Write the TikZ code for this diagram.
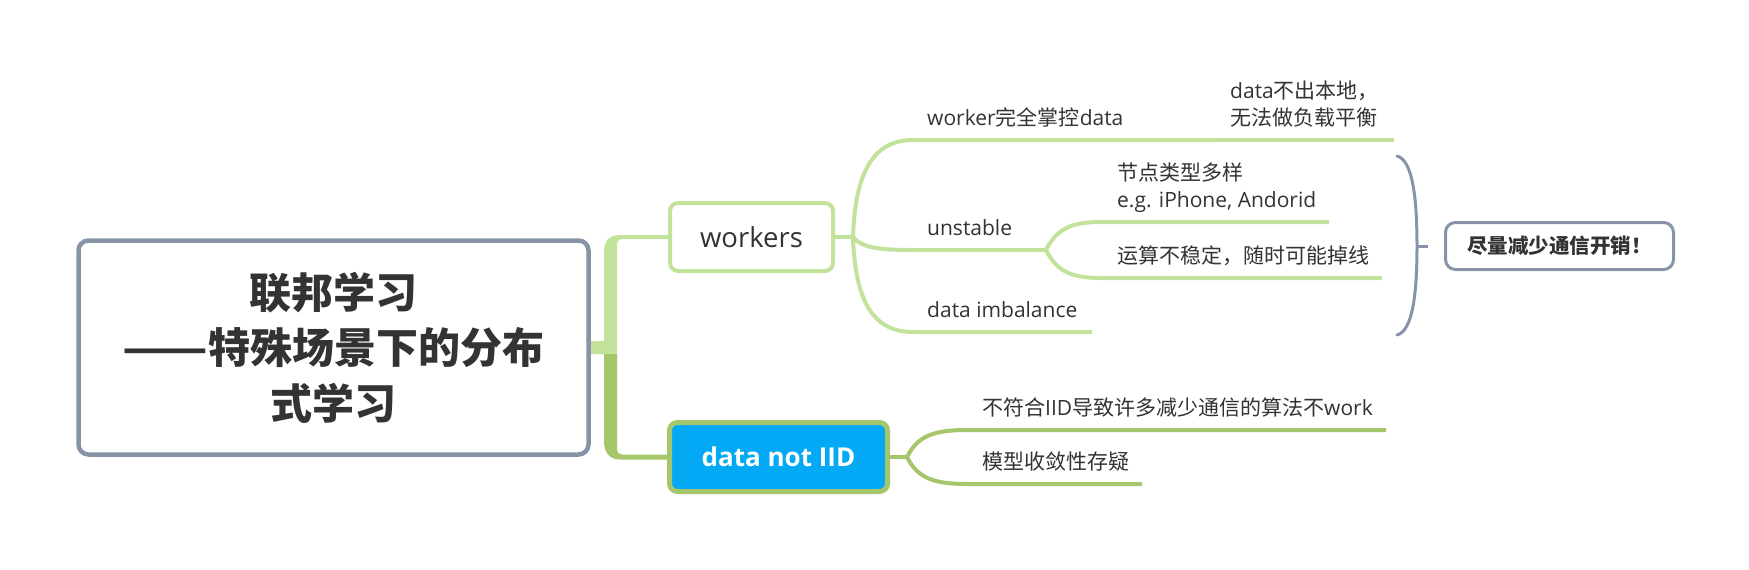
\documentclass[tikz,border=0pt]{standalone}
\usepackage{fontspec}
\usepackage{graphicx}
\setmainfont{Open Sans}
\newfontfamily\cjk{Noto Sans CJK SC}
\usetikzlibrary{calc, backgrounds}
\definecolor{cGreenL}{RGB}{195,226,155}
\definecolor{cGreenD}{RGB}{166,198,108}
\definecolor{cGrey}{RGB}{135,148,168}
\definecolor{cBlue}{RGB}{3,169,244}
\definecolor{cText}{RGB}{51,51,51}
\newcommand{\twoln}[2]{\begin{tabular}[b]{@{}l@{}}#1\\#2\end{tabular}}

\begin{document}
\begin{tikzpicture}[x=1pt, y=-1pt,
    rootbox/.style={draw=cGrey, line width=4.5pt, rounded corners=10pt, fill=white, text=cText, align=center, inner sep=0pt, minimum width=510pt, minimum height=214pt, font=\cjk\bfseries\fontsize{42}{55.5}\selectfont},
    mainbox/.style={rounded corners=8pt, inner sep=0pt, font=\fontsize{27.5}{32}\selectfont},
    leaf/.style={anchor=south west, inner sep=0pt, text depth=0pt, text=cText, font=\fontsize{21}{27}\selectfont},
    sumbox/.style={draw=cGrey, line width=3pt, rounded corners=10pt, fill=white, text=cText, minimum width=228pt, minimum height=47pt, inner sep=0pt, font=\cjk\bfseries\fontsize{20.5}{24}\selectfont},
    lgl/.style={draw=cGreenL, line width=4pt},
    dgl/.style={draw=cGreenD, line width=4pt}]
  \useasboundingbox (0,0) rectangle (1749,570);
  % main topics
  \node[rootbox] (root) at (333.5,347.5) {联邦学习\\\scalebox{1.19}[1]{——}特殊场景下的分布\\式学习};
  \node[mainbox, draw=cGreenL, line width=4pt, fill=white, text=cText, minimum width=163pt, minimum height=68pt] (wk) at (751.5,237) {workers};
  \node[mainbox, draw=cGreenD, line width=5pt, fill=cBlue, text=white, minimum width=218pt, minimum height=69pt, font=\bfseries\fontsize{26}{30}\selectfont] (iid) at (778.5,457) {data not IID};
  % line ends of the subtopics
  \coordinate (wo) at (853,237);
  \coordinate (t1s) at (913,140);   \coordinate (t1e) at (1216,140);  \coordinate (t1ce) at (1394,140);
  \coordinate (t2s) at (913,250);   \coordinate (t2e) at (1046,250);
  \coordinate (t2as) at (1103,222); \coordinate (t2ae) at (1329,222);
  \coordinate (t2bs) at (1103,278); \coordinate (t2be) at (1382,278);
  \coordinate (t3s) at (913,332);   \coordinate (t3e) at (1092,332);
  \coordinate (io) at (907,457);
  \coordinate (i1s) at (968,430);   \coordinate (i1e) at (1386,430);
  \coordinate (i2s) at (968,484);   \coordinate (i2e) at (1142,484);
  % subtopics
  \node[leaf] (t1) at ($(t1s)+(14,-14.5)$) {worker{\cjk 完全掌控}data};
  \node[leaf] (t1c) at ($(t1e)+(14,-14.5)$) {\twoln{data{\cjk 不出本地，}}{\cjk 无法做负载平衡}};
  \node[leaf] (t2) at ($(t2s)+(14,-14.5)$) {unstable};
  \node[leaf] (t2a) at ($(t2as)+(14,-14.5)$) {\twoln{\cjk 节点类型多样}{e.g. iPhone, Andorid}};
  \node[leaf] (t2b) at ($(t2bs)+(14,-14.5)$) {\cjk 运算不稳定，随时可能掉线};
  \node[leaf] (t3) at ($(t3s)+(14,-14.5)$) {data imbalance};
  \node[leaf] (i1) at ($(i1s)+(14,-14.5)$) {{\cjk 不符合}IID{\cjk 导致许多减少通信的算法不}work};
  \node[leaf] (i2) at ($(i2s)+(14,-14.5)$) {\cjk 模型收敛性存疑};
  % summary
  \node[sumbox] (sum) at (1559.5,246) {尽量减少通信开销！};
  \coordinate (bt) at (1397,156); \coordinate (bm) at (1417,246); \coordinate (bb) at (1397,335);
  \draw[cGrey, line width=3pt, line cap=round] (bt) .. controls (1413,160) and (1417,200) .. (bm) .. controls (1417,292) and (1413,331) .. (bb);
  \draw[cGrey, line width=3pt] (bm) -- ([xshift=-16pt]sum.west);
  \begin{scope}[on background layer]
    \fill[white] (0,0) rectangle (1749,570);
    % trunk
    \fill[cGreenL] ([yshift=6.5pt]root.east) -- (604,341) -- (604,252) .. controls (604,241) and (609,235) .. (620,235) -- ([yshift=2pt]wk.west) -- ([yshift=-2pt]wk.west) -- (622,239) .. controls (619,239) and (617,241) .. (617,244) -- (617,354) -- ([yshift=-6.5pt]root.east) -- cycle;
    \fill[cGreenD] (604,354) -- (604,441) .. controls (604,452) and (609,459.5) .. (620,459.5) -- ([yshift=-2.5pt]iid.west) -- ([yshift=2.5pt]iid.west) -- (622,454.5) .. controls (619,454.5) and (617,452.5) .. (617,450) -- (617,354) -- cycle;
    % workers branch
    \draw[lgl] (wk.east) -- (wo);
    \draw[lgl] (wo) .. controls (855,178) and (870,140) .. (t1s) -- (t1e);
    \draw[lgl] (t1e) -- (t1ce);
    \draw[lgl] (wo) .. controls (862,248) and (880,250) .. (t2s) -- (t2e);
    \draw[lgl] (wo) .. controls (855,296) and (870,332) .. (t3s) -- (t3e);
    \draw[lgl] (t2e) .. controls (1058,226) and (1075,222) .. (t2as) -- (t2ae);
    \draw[lgl] (t2e) .. controls (1058,274) and (1075,278) .. (t2bs) -- (t2be);
    % data not IID branch
    \draw[dgl] (iid.east) -- (io);
    \draw[dgl] (io) .. controls (918,435) and (935,430) .. (i1s) -- (i1e);
    \draw[dgl] (io) .. controls (918,479) and (935,484) .. (i2s) -- (i2e);
  \end{scope}
\end{tikzpicture}
\end{document}
